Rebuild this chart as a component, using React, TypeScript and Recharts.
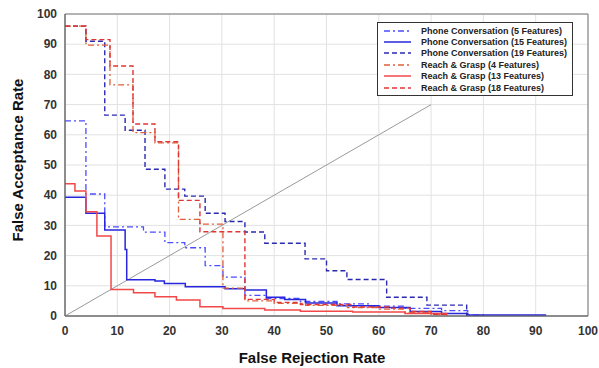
import { LineChart, Line, XAxis, YAxis, CartesianGrid, ReferenceArea, Label } from "recharts";

// step curves: [falseRejection, falseAcceptance], value holds until the next x
const phone5: [number, number][] = [
  [0, 64.6], [4, 40.4], [7.6, 29.5], [15, 27.8], [19.1, 24.3], [22.9, 22.6],
  [26.8, 16.7], [30.2, 12.9], [34.4, 6.8], [38.5, 5.8], [45, 4.8], [52, 4.0],
  [58, 3.3], [65, 2.5], [72, 1.8], [77, 0.3], [80, 0],
];
const phone15: [number, number][] = [
  [0, 39.3], [4, 34], [7.6, 28.5], [11.5, 22], [11.8, 12], [17.2, 11.6],
  [19, 10.8], [23, 9.7], [30.6, 9.0], [34.4, 8.6], [38.5, 6.2], [42, 5.5],
  [46, 4.3], [52, 3.4], [60, 2.8], [66, 1.5], [72, 0.8], [77, 0.3], [92, 0.3],
];
const phone19: [number, number][] = [
  [0, 96], [4, 91], [7.6, 66.5], [11.5, 61.5], [15.3, 48.6], [19.1, 42],
  [22.9, 39.7], [26.8, 34], [30.6, 31.3], [34.4, 27.8], [38.2, 24.1],
  [45.9, 18.9], [50, 15], [53.9, 12.1], [61.5, 6.2], [69.2, 3.6], [76.8, 0],
];
const reach4: [number, number][] = [
  [0, 96], [4, 89.7], [8.6, 76.5], [13, 60.7], [17.2, 57.3], [21.7, 32],
  [25.8, 30.4], [30.2, 9.2], [34.4, 5], [40, 4.2], [46, 3.5], [54, 2.8],
  [60, 2.3], [65, 1.2], [70, 0.5], [73, 0],
];
const reach13: [number, number][] = [
  [0, 43.8], [1.9, 41.4], [4, 34.5], [6.1, 26.5], [8.8, 8.8], [13.1, 7.7],
  [17.2, 6.4], [21.3, 5.3], [25.8, 3.1], [30.2, 2.5], [38.2, 2.0], [45, 1.6],
  [55, 1.3], [65, 0.8], [73, 0],
];
const reach18: [number, number][] = [
  [0, 96], [4, 91.5], [8.6, 82.8], [13, 63.6], [17.2, 57.7], [21.7, 38.3],
  [25.8, 27.9], [34.4, 5.5], [40, 4.5], [45, 3.8], [55, 3.0], [62, 2.6],
  [66, 1.5], [70, 0.6], [73, 0],
];
const diagonal: [number, number][] = [[0, 0], [70, 70]];

const ticks = [0, 10, 20, 30, 40, 50, 60, 70, 80, 90, 100];

const series = [
  { name: "Phone Conversation (5 Features)", pts: phone5, color: "#4b4bff", dash: "6 3 2 3", width: 1.3 },
  { name: "Phone Conversation (15 Features)", pts: phone15, color: "#2626dd", dash: undefined, width: 1.5 },
  { name: "Phone Conversation (19 Features)", pts: phone19, color: "#2a2ab0", dash: "5 3", width: 1.4 },
  { name: "Reach & Grasp (4 Features)", pts: reach4, color: "#e0603a", dash: "6 3 2 3", width: 1.3 },
  { name: "Reach & Grasp (13 Features)", pts: reach13, color: "#f24848", dash: undefined, width: 1.5 },
  { name: "Reach & Grasp (18 Features)", pts: reach18, color: "#e03535", dash: "5 3", width: 1.4 },
];

const toRows = (pts: [number, number][]) => pts.map(([x, y]) => ({ x, y }));

const FONT = "'Liberation Sans', Arial, sans-serif";

function LegendBox() {
  return (
    <div
      style={{
        position: "absolute",
        left: 377,
        top: 22,
        border: "1.5px solid #333",
        background: "#fff",
        width: 196,
        padding: "2px 0",
        fontFamily: FONT,
        fontSize: 9,
        fontWeight: "bold",
        color: "#222",
        boxSizing: "border-box",
      }}
    >
      {series.map((s) => (
        <div key={s.name} style={{ display: "flex", alignItems: "center", height: 11.4 }}>
          <svg width={40} height={8} style={{ flex: "none" }}>
            <line x1={6} x2={33} y1={4} y2={4} stroke={s.color} strokeWidth={s.width} strokeDasharray={s.dash} />
          </svg>
          <span style={{ marginLeft: 3, whiteSpace: "nowrap" }}>{s.name}</span>
        </div>
      ))}
    </div>
  );
}

export default function App() {
  return (
    <div style={{ position: "fixed", left: 0, top: 0, width: 599, height: 368, background: "#fff" }}>
      <LineChart width={599} height={368} margin={{ top: 14, right: 11, left: 0, bottom: 0 }}>
        <CartesianGrid stroke="#e2e2e2" strokeWidth={1} />
        <XAxis
          type="number"
          dataKey="x"
          domain={[0, 100]}
          ticks={ticks}
          height={52}
          tickSize={0}
          tickMargin={10}
          axisLine={{ stroke: "#666" }}
          tick={{ fontFamily: FONT, fontSize: 12, fontWeight: "bold", fill: "#333" }}
          allowDataOverflow
        >
          <Label
            content={() => (
              <text x={312} y={363} textAnchor="middle" fontFamily={FONT} fontSize={15} fontWeight="bold" fill="#111">
                False Rejection Rate
              </text>
            )}
          />
        </XAxis>
        <YAxis
          type="number"
          domain={[0, 100]}
          ticks={ticks}
          width={65}
          tickSize={0}
          tickMargin={8}
          axisLine={{ stroke: "#666" }}
          tick={{ fontFamily: FONT, fontSize: 12, fontWeight: "bold", fill: "#333" }}
          allowDataOverflow
        >
          <Label
            content={() => (
              <text
                x={23}
                y={160}
                transform="rotate(-90 23 160)"
                textAnchor="middle"
                fontFamily={FONT}
                fontSize={15}
                fontWeight="bold"
                fill="#111"
              >
                False Acceptance Rate
              </text>
            )}
          />
        </YAxis>
        <ReferenceArea x1={0} x2={100} y1={0} y2={100} fill="none" stroke="#777" strokeWidth={1} />
        <Line
          data={toRows(diagonal)}
          dataKey="y"
          type="linear"
          stroke="#9a9a9a"
          strokeWidth={1}
          dot={false}
          isAnimationActive={false}
          legendType="none"
        />
        {series.map((s) => (
          <Line
            key={s.name}
            name={s.name}
            data={toRows(s.pts)}
            dataKey="y"
            type="stepAfter"
            stroke={s.color}
            strokeWidth={s.width}
            strokeDasharray={s.dash}
            dot={false}
            isAnimationActive={false}
          />
        ))}
      </LineChart>
      <LegendBox />
    </div>
  );
}
